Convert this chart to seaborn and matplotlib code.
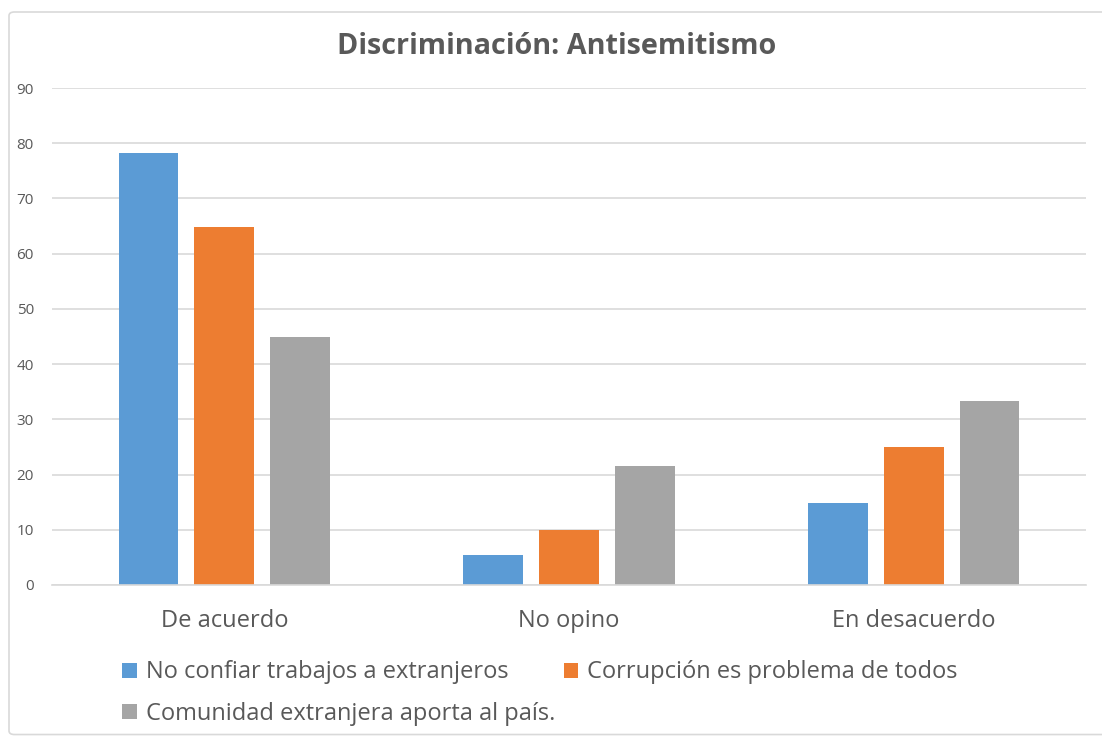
import matplotlib
matplotlib.use("Agg")
import matplotlib.pyplot as plt
import seaborn as sns
import pandas as pd
from matplotlib.patches import FancyBboxPatch

categories = ["De acuerdo", "No opino", "En desacuerdo"]
series = ["No confiar trabajos a extranjeros",
          "Corrupción es problema de todos",
          "Comunidad extranjera aporta al país."]
vals_confiar = [78.2, 5.5, 14.8]
vals_corrupcion = [64.9, 9.9, 24.9]
vals_comunidad = [44.9, 21.6, 33.3]
colors = ["#5B9BD5", "#ED7D31", "#A5A5A5"]
yticks = [0, 10, 20, 30, 40, 50, 60, 70, 80, 90]

rows = []
for s, vals in zip(series, [vals_confiar, vals_corrupcion, vals_comunidad]):
    for c, v in zip(categories, vals):
        rows.append({"cat": c, "serie": s, "valor": v})
df = pd.DataFrame(rows)

sns.set_theme(style="white")
plt.rcParams["font.family"] = ["Open Sans", "DejaVu Sans"]
txt = "#595959"

fig = plt.figure(figsize=(11.02, 7.36), dpi=100)
fig.patch.set_facecolor("white")
ax = fig.add_axes([52/1102, 1-585/736, (1086-52)/1102, (585-88)/736])

sns.barplot(data=df, x="cat", y="valor", hue="serie", order=categories,
            hue_order=series, palette=colors, width=0.66, gap=0.21,
            saturation=1, ax=ax, legend=True, edgecolor="none")

ax.set_ylim(0, 90)
ax.set_xlim(-0.5, 2.5)
ax.set_yticks(yticks)
ax.yaxis.grid(True, color="#D9D9D9", linewidth=1.2)
ax.set_axisbelow(True)
for sp in ["top", "right", "left"]:
    ax.spines[sp].set_visible(False)
ax.spines["bottom"].set_color("#D9D9D9")
ax.spines["bottom"].set_linewidth(1.2)
ax.tick_params(axis="y", length=0, labelsize=11, labelcolor=txt, pad=13)
ax.tick_params(axis="x", length=0, labelsize=17, labelcolor=txt, pad=17)
ax.set_xlabel("")
ax.set_ylabel("")

handles, labels = ax.get_legend_handles_labels()
ax.get_legend().remove()
order = [0, 2, 1]
leg = fig.legend([handles[i] for i in order], [labels[i] for i in order],
                 ncol=2, loc="upper left", bbox_to_anchor=(113/1102, 1-651/736),
                 frameon=False, fontsize=17, labelcolor=txt,
                 handlelength=0.6, handleheight=0.6, handletextpad=0.4,
                 columnspacing=0.35, labelspacing=0.75, borderaxespad=0)

fig.text(557/1102, 1-46/736, "Discriminación: Antisemitismo", ha="center",
         va="center", fontsize=20.7, fontweight="bold", color=txt)

border = FancyBboxPatch((9/1102, 0.002), 1.1, 1-12/736-0.002,
                        boxstyle="round,pad=0,rounding_size=0.005",
                        transform=fig.transFigure, fill=False,
                        edgecolor="#D9D9D9", linewidth=1.2)
fig.patches.append(border)

fig.savefig("out.png", dpi=100, facecolor="white")
